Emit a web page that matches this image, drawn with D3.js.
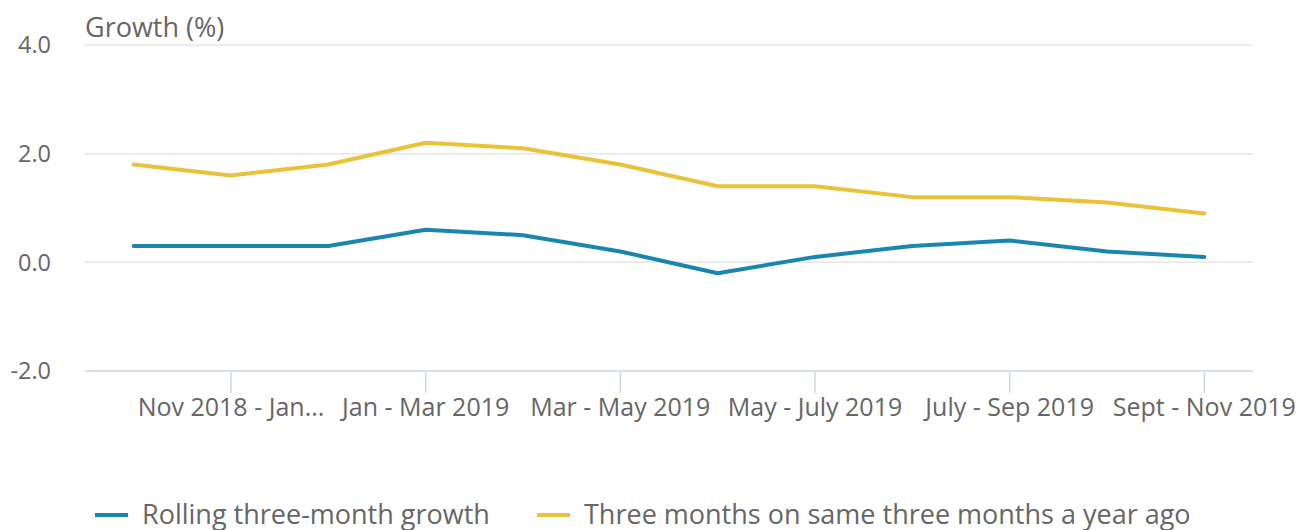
<!DOCTYPE html>
<html>
<head>
<meta charset="utf-8">
<script src="https://cdn.jsdelivr.net/npm/d3@7"></script>
<style>
  body { margin: 0; background: #fff; }
  text { font-family: "Open Sans", sans-serif; fill: #666; }
</style>
</head>
<body>
<div id="chart"></div>
<script>
// categories (rolling three-month periods)
var periods = ["Oct - Dec 2018", "Nov 2018 - Jan 2019", "Dec 2018 - Feb 2019", "Jan - Mar 2019",
    "Feb - Apr 2019", "Mar - May 2019", "Apr - June 2019", "May - July 2019",
    "June - Aug 2019", "July - Sep 2019", "Aug - Oct 2019", "Sept - Nov 2019"];
var tickLabels = ["Nov 2018 - Jan...", "Jan - Mar 2019", "Mar - May 2019", "May - July 2019", "July - Sep 2019", "Sept - Nov 2019"];
var rolling = [0.3, 0.3, 0.3, 0.6, 0.5, 0.2, -0.2, 0.1, 0.3, 0.4, 0.2, 0.1];
var yearAgo = [1.8, 1.6, 1.8, 2.2, 2.1, 1.8, 1.4, 1.4, 1.2, 1.2, 1.1, 0.9];
var yTicks = [-2, 0, 2, 4];
var seriesNames = ["Rolling three-month growth", "Three months on same three months a year ago"];

var W = 1307, H = 530;
var margin = { top: 45, right: 54, bottom: 159, left: 85 },
    width = W - margin.left - margin.right,
    height = H - margin.top - margin.bottom;

var svg = d3.select("#chart").append("svg")
    .attr("width", W).attr("height", H);
var g = svg.append("g").attr("transform", `translate(${margin.left},${margin.top})`);

var x = d3.scaleBand().domain(periods).range([0, width]);
var y = d3.scaleLinear().domain([-2, 4]).range([height, 0]);
var cx = function (d) { return x(d) + x.bandwidth() / 2; };

// gridlines
g.selectAll(".grid").data(yTicks.filter(function (t) { return t !== -2; }))
    .enter().append("line")
    .attr("x1", 0).attr("x2", width)
    .attr("y1", function (d) { return y(d); }).attr("y2", function (d) { return y(d); })
    .attr("stroke", "#e6e6e6").attr("stroke-width", 1.5);

// y labels
g.selectAll(".ylab").data(yTicks).enter().append("text")
    .attr("x", -34).attr("y", function (d) { return y(d); })
    .attr("dy", "0.35em").attr("text-anchor", "end")
    .style("font-size", "23.5px")
    .text(function (d) { return d.toFixed(1); });

// x axis
g.append("line").attr("x1", 0).attr("x2", width)
    .attr("y1", height).attr("y2", height)
    .attr("stroke", "#ccd6eb").attr("stroke-width", 1.5);

var tickPeriods = periods.filter(function (d, i) { return i % 2 === 1; });
g.selectAll(".xtick").data(tickPeriods).enter().append("line")
    .attr("x1", cx).attr("x2", cx)
    .attr("y1", height).attr("y2", height + 22)
    .attr("stroke", "#ccd6eb").attr("stroke-width", 1.5);
g.selectAll(".xlab").data(tickPeriods).enter().append("text")
    .attr("x", cx).attr("y", height + 45)
    .attr("text-anchor", "middle")
    .style("font-size", "25px")
    .text(function (d, i) { return tickLabels[i]; });

// axis title
g.append("text").attr("x", 0).attr("y", -8)
    .style("font-size", "27px").text("Growth (%)");

// lines
var line = d3.line()
    .x(function (d, i) { return cx(periods[i]); })
    .y(function (d) { return y(d); });
var colors = ["#1a86b0", "#e8c33a"];
[rolling, yearAgo].forEach(function (s, k) {
    g.append("path").datum(s)
        .attr("fill", "none")
        .attr("stroke", colors[k])
        .attr("stroke-width", 4)
        .attr("stroke-linejoin", "round")
        .attr("stroke-linecap", "round")
        .attr("d", line);
});

// legend
var legX = [95, 537];
seriesNames.forEach(function (n, k) {
    var lg = svg.append("g").attr("transform", `translate(${legX[k]},515)`);
    lg.append("line").attr("x1", 0).attr("x2", 33)
        .attr("stroke", colors[k]).attr("stroke-width", 4);
    lg.append("text").attr("x", 47).attr("dy", "0.35em")
        .style("font-size", "27px").text(n);
});
</script>
</body>
</html>
